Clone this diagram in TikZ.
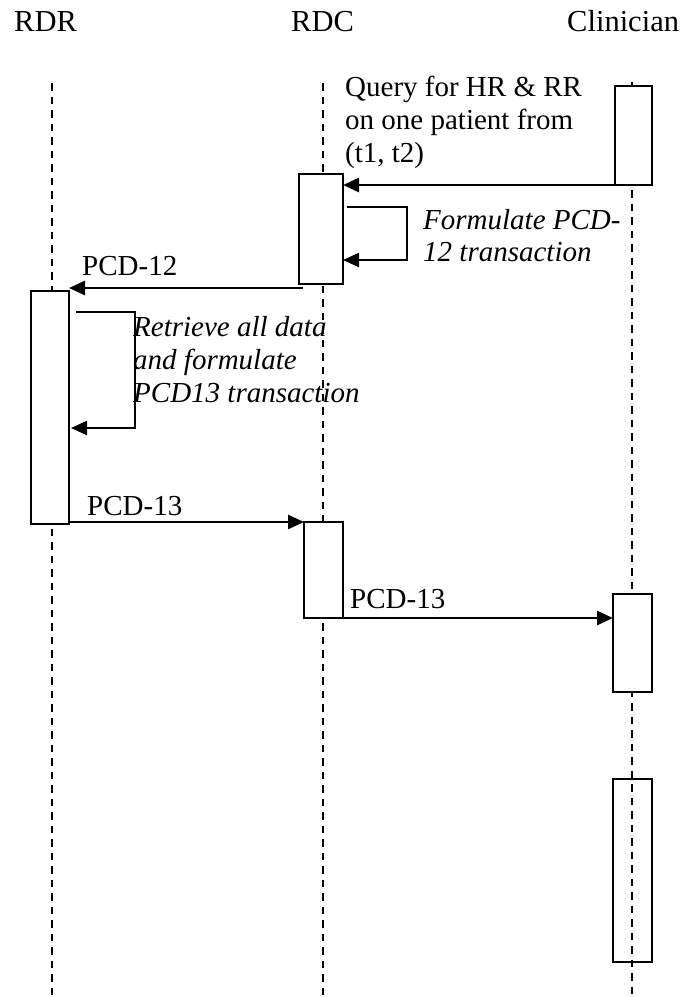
\documentclass[tikz,border=0pt]{standalone}
\usepackage{fontspec}
\setmainfont{Liberation Serif}
\usetikzlibrary{arrows.meta}
\begin{document}
\begin{tikzpicture}[x=1pt,y=-1pt,
  lifeline/.style={line width=1.7pt,dash pattern=on 7.5pt off 6pt},
  actbox/.style={draw,line width=2.2pt,fill=white,inner sep=0pt,outer sep=0pt,anchor=north west},
  openbox/.style={draw,line width=2.2pt,inner sep=0pt,outer sep=0pt,anchor=north west},
  msg/.style={line width=2.8pt,-{Triangle[length=16pt,width=14pt]}},
  selfmsg/.style={line width=2.4pt,-{Triangle[length=16pt,width=14pt]}},
  head/.style={font=\fontsize{30.5}{35}\selectfont,anchor=base west,inner sep=0pt},
  lbl/.style={font=\fontsize{29}{33}\selectfont,anchor=base west,inner sep=0pt},
  ilbl/.style={font=\fontsize{29}{33}\selectfont\itshape,anchor=base west,inner sep=0pt}]
\useasboundingbox[fill=white] (0,0) rectangle (685,997);
% headers
\node[head] (hRDR) at (14,31) {RDR};
\node[head] (hRDC) at (291,31) {RDC};
\node[head] (hCli) at (567,31) {Clinician};
% lifelines
\coordinate (lrT) at (52,83);  \coordinate (lrB) at (52,997);
\coordinate (lcT) at (323,83); \coordinate (lcB) at (323,997);
\coordinate (lkT) at (632,82); \coordinate (lkB) at (632,997);
\draw[lifeline] (lrT) -- (lrB);
\draw[lifeline] (lcT) -- (lcB);
\draw[lifeline] (lkT) -- (lkB);
% activation boxes
\node[actbox,minimum width=37pt,minimum height=99pt] (k1) at (615,86) {};
\node[actbox,minimum width=44pt,minimum height=110pt] (c1) at (299,174) {};
\node[actbox,minimum width=38pt,minimum height=233pt] (r1) at (31,291) {};
\node[actbox,minimum width=39pt,minimum height=96pt] (c2) at (304,522) {};
\node[actbox,minimum width=39pt,minimum height=98pt] (k2) at (613,594) {};
\node[openbox,minimum width=39pt,minimum height=183pt] (k3) at (613,779) {};
% query
\node[lbl] (q1) at (345,96) {Query for HR \& RR};
\node[lbl] (q2) at (345,129) {on one patient from};
\node[lbl] (q3) at (345,162) {(t1, t2)};
\draw[msg] (k1.south west) -- (c1.east |- k1.south);
% self message RDC
\coordinate (s1a) at (347,207);
\coordinate (s1b) at (407,207);
\coordinate (s1c) at (407,260);
\draw[selfmsg] (s1a) -- (s1b) -- (s1c) -- (c1.east |- s1c);
\node[ilbl] (f1) at (423,229) {Formulate PCD-};
\node[ilbl] (f2) at (423,261) {12 transaction};
% PCD-12
\node[lbl] (m12) at (82,275) {PCD-12};
\draw[msg] ([xshift=4pt]c1.west |- 0,288) -- (r1.east |- 0,288);
% self message RDR
\coordinate (s2a) at (76,312);
\coordinate (s2b) at (135,312);
\coordinate (s2c) at (135,428);
\draw[selfmsg] (s2a) -- (s2b) -- (s2c) -- ([xshift=2pt]r1.east |- s2c);
\node[ilbl] (g1) at (133,336) {Retrieve all data};
\node[ilbl] (g2) at (133,369) {and formulate};
\node[ilbl] (g3) at (133,402) {PCD13 transaction};
% PCD-13 (1)
\node[lbl] (m13a) at (87,515) {PCD-13};
\draw[msg] (r1.east |- 0,522) -- (c2.west |- 0,522);
% PCD-13 (2)
\node[lbl] (m13b) at (350,608) {PCD-13};
\draw[msg] (c2.south east) -- (k2.west |- c2.south);
\end{tikzpicture}
\end{document}
